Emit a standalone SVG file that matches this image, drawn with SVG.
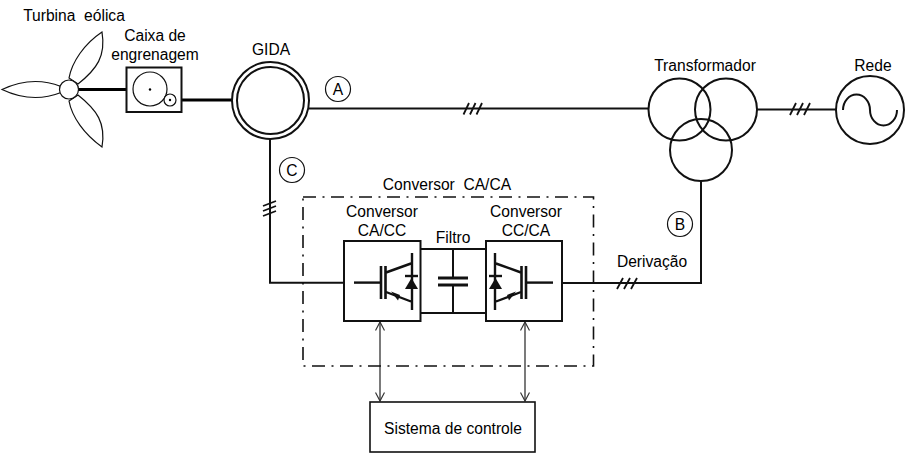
<svg xmlns="http://www.w3.org/2000/svg" width="910" height="455" viewBox="0 0 910 455">
<style>
text{font-family:"Liberation Sans",Arial,sans-serif;font-size:15.6px;fill:#000;text-anchor:middle;white-space:pre}
.l{fill:none;stroke:#111;stroke-width:2}
.i{fill:none;stroke:#111;stroke-width:2.4}
.t{fill:none;stroke:#111;stroke-width:1.8}
.th{fill:none;stroke:#000;stroke-width:3.2}
.n{fill:#fff;stroke:#111;stroke-width:2}
.c{fill:#fff;stroke:#111;stroke-width:1.2}
.ar{fill:none;stroke:#333;stroke-width:1.3}
</style>
<defs>
<marker id="ah" viewBox="0 0 10 10" refX="9.500" refY="5" markerWidth="10" markerHeight="10" orient="auto-start-reverse" markerUnits="userSpaceOnUse"><path d="M1,0.500 L9.500,5 L1,9.500" fill="none" stroke="#333" stroke-width="1.200"/></marker>
<g id="igbt">
<path class="i" d="M354,282.600H381"/>
<path d="M381,266V299M385.500,266V299" fill="none" stroke="#111" stroke-width="2.600"/>
<path class="i" d="M386,272.500L411,263.500M412,253V310M386,292L411,301.500"/>
<path d="M391,291.500L400,295L398,300.500Z" fill="#111"/>
<path d="M405,276H418" class="i"/>
<path d="M411.500,278L405,289H418Z" fill="#111"/>
</g>
</defs>

<g id="connectors">
<path class="th" d="M78,89.500H133"/>
<path class="th" d="M176,100H232"/>
<path class="l" d="M309,108.600H648"/>
<path class="t" d="M463.500,114.500L469,103M470,114.500L475.500,103M476.500,114.500L482,103"/>
<path class="l" d="M757,109.600H836"/>
<path class="t" d="M790,115L796,103M797,115L803,103M804,115L810,103"/>
<path class="l" d="M270,139V282.700H344"/>
<path class="t" d="M263,206L276,201M263,211L276,206M263,216L276,211"/>
<path class="l" d="M701,181V283H562"/>
<path class="t" d="M617,289L623,278M624,289L630,278M631,289L637,278"/>
<path class="ar" d="M380,322V401" marker-start="url(#ah)" marker-end="url(#ah)"/>
<path class="ar" d="M525,322V401" marker-start="url(#ah)" marker-end="url(#ah)"/>
<path class="l" d="M420,249H486M420,313H486M453,249V278M453,285V313"/>
<path d="M438,278H468M438,285H468" fill="none" stroke="#111" stroke-width="3"/>
</g>

<g id="turbina">
<path class="c" d="M61,86.500C42,79 22,80 2,89.500C22,99 42,100 61,92.500Z"/>
<path class="c" d="M69,78C72,62 84,44 102,32C106,56 97,69 78,84Z"/>
<path class="c" d="M69,101C72,117 84,134 102,147C106,123 97,110 78,95Z"/>
<circle class="c" cx="69" cy="89.500" r="9.500"/>
<text x="74" y="21">Turbina  eólica</text>
</g>

<g id="caixa">
<rect class="n" x="126.500" y="67.500" width="55" height="44.500"/>
<circle class="c" cx="150" cy="89" r="17"/>
<circle cx="150" cy="89.500" r="1.200" fill="#000"/>
<circle class="c" cx="170" cy="100" r="6"/>
<circle cx="170" cy="100" r="1.200" fill="#000"/>
<text x="155" y="41">Caixa de</text>
<text x="155" y="60">engrenagem</text>
</g>

<g id="gida">
<circle class="n" cx="270.500" cy="100.500" r="38.500"/>
<circle class="n" cx="270.500" cy="100.500" r="33.500"/>
<text x="271" y="55">GIDA</text>
</g>

<g id="label-a"><circle class="c" cx="338" cy="89" r="12.500"/><text x="338" y="94.500">A</text></g>
<g id="label-c"><circle class="c" cx="292" cy="170" r="12.500"/><text x="292" y="175.500">C</text></g>
<g id="label-b"><circle class="c" cx="680" cy="224" r="12.500"/><text x="680" y="229.500">B</text></g>

<g id="transformador">
<circle class="l" cx="679.500" cy="109.500" r="31"/>
<circle class="l" cx="726" cy="109.500" r="31"/>
<circle class="l" cx="701" cy="150" r="31"/>
<text x="705" y="71">Transformador</text>
</g>

<g id="rede">
<circle class="l" cx="870" cy="110" r="34"/>
<path class="l" d="M843,110A13.500,15.500 0 0 1 870,110A13.500,15.500 0 0 0 897,110"/>
<text x="873" y="71">Rede</text>
</g>

<g id="conversor-caca">
<rect x="303" y="197" width="290.500" height="169" fill="none" stroke="#111" stroke-width="1.600" stroke-dasharray="13 6.500 2 6.500"/>
<text x="447" y="190">Conversor  CA/CA</text>
</g>

<g id="conversor-cacc">
<rect class="n" x="344" y="241" width="76.500" height="80"/>
<use href="#igbt"/>
<text x="382" y="217">Conversor</text>
<text x="382" y="236">CA/CC</text>
</g>

<g id="filtro"><text x="453" y="243">Filtro</text></g>

<g id="conversor-ccca">
<rect class="n" x="486" y="241" width="76" height="80"/>
<use href="#igbt" transform="matrix(-1 0 0 1 907 0)"/>
<text x="526" y="217">Conversor</text>
<text x="526" y="236">CC/CA</text>
</g>

<g id="derivacao"><text x="652" y="267">Derivação</text></g>

<g id="sistema">
<rect x="370" y="402" width="165" height="50" fill="#fff" stroke="#111" stroke-width="1.600"/>
<text x="453" y="434">Sistema de controle</text>
</g>
</svg>
